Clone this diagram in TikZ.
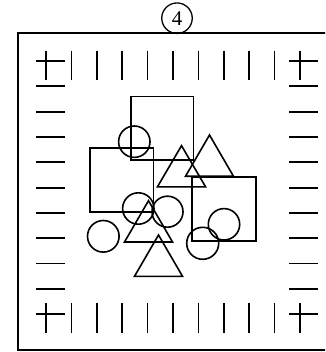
\documentclass[tikz,border=0pt]{standalone}
\usepackage{fontspec}
\setmainfont{Liberation Serif}
\begin{document}
\begin{tikzpicture}[x=1pt,y=-1pt,
  shp/.style={draw=black,line width=1.6pt},
  tick/.style={draw=black,line width=1.7pt},
  frame/.style={draw=black,line width=2pt},
  lbl/.style={circle,draw=black,line width=1.3pt,inner sep=0pt,minimum size=30.5pt,font=\fontsize{21}{21}\selectfont}]
\useasboundingbox (0,0) rectangle (325,352);
\clip (0,0) rectangle (325,352);
% outer frame
\draw[frame] (18.3,33.3) rectangle (335,349.5);
% label
\node[lbl] (label) at (177,18.2) {4};
% top and bottom ticks
\foreach \i in {0,...,10}{
  \draw[tick] ({46+25.4*\i},50.7) -- ({46+25.4*\i},80);
  \draw[tick] ({46+25.4*\i},303.3) -- ({46+25.4*\i},333.3);
}
% left and right dashes
\foreach \j in {0,...,10}{
  \draw[tick] (36.3,{61+25.33*\j}) -- (65,{61+25.33*\j});
  \draw[tick] (289.3,{61+25.33*\j}) -- (318.2,{61+25.33*\j});
}
% squares
\draw[shp] (130.7,96.7) rectangle (193.3,160);
\draw[shp] (90,148.3) rectangle (153.3,211.7);
\draw[shp] (191.7,177.3) rectangle (255.7,241);
% triangles
\draw[shp,line join=miter] (181.5,145.7) -- (205.6,186.9) -- (157.4,186.9) -- cycle;
\draw[shp,line join=miter] (209.5,135) -- (233.5,176.3) -- (185.5,176.3) -- cycle;
\draw[shp,line join=miter] (148.5,200.7) -- (172.5,242) -- (124.5,242) -- cycle;
\draw[shp,line join=miter] (158.5,235) -- (182.5,276.3) -- (134.5,276.3) -- cycle;
% circles
\draw[shp] (134.3,141.7) circle (15.7);
\draw[shp] (138.3,208.5) circle (15.7);
\draw[shp] (167.5,211.7) circle (15.5);
\draw[shp] (103.3,236.3) circle (15.8);
\draw[shp] (224,224.3) circle (15.7);
\draw[shp] (202.7,243.3) circle (16);
\end{tikzpicture}
\end{document}
